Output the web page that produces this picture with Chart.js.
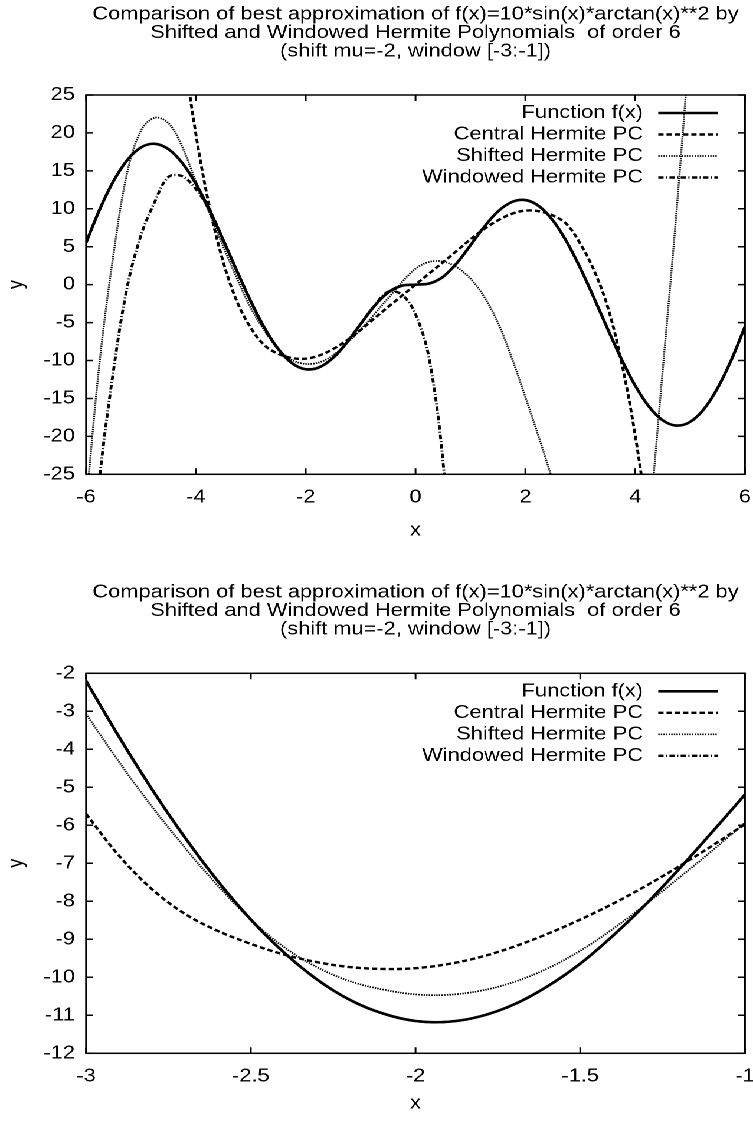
<!DOCTYPE html>
<html lang="en">
<head>
<meta charset="utf-8" />
<script src="https://cdn.jsdelivr.net/npm/chart.js@4.4.1/dist/chart.umd.min.js"></script>
<title>Hermite PC approximations</title>
<style>
  html, body { margin: 0; padding: 0; background: #fff; }
  /* the gnuplot output is stretched sideways, so the whole drawing is too */
  #wrap { width: 638px; transform: scaleX(1.1803); transform-origin: 0 0; }
  canvas { display: block; }
</style>
</head>
<body>
<div id="wrap">
  <canvas id="arriba" width="638" height="560"></canvas>
  <canvas id="abajo" width="638" height="561"></canvas>
</div>
<script>
const titulo = [
  "Comparison of best approximation of f(x)=10*sin(x)*arctan(x)**2 by",
  "Shifted and Windowed Hermite Polynomials  of order 6",
  "(shift mu=-2, window [-3:-1])"
];
const series = ["Function f(x)", "Central Hermite PC", "Shifted Hermite PC", "Windowed Hermite PC"];

// top plot, x from -6 to 6
const topX = [-6, -5.75, -5.5, -5.25, -5, -4.75, -4.5, -4.25, -4, -3.75, -3.5, -3.25, -3, -2.75, -2.5, -2.25,
  -2, -1.75, -1.5, -1.25, -1, -0.75, -0.5, -0.25, 0, 0.25, 0.5, 0.75, 1, 1.25, 1.5, 1.75,
  2, 2.25, 2.5, 2.75, 3, 3.25, 3.5, 3.75, 4, 4.25, 4.5, 4.75, 5, 5.25, 5.5, 5.75, 6];
const topFunction = [5.52, 9.94, 13.65, 16.42, 18.09, 18.57, 17.87, 16.06, 13.30, 9.81, 5.86, 1.75, -2.20, -5.70, -8.48, -10.34,
  -11.15, -10.88, -9.64, -7.62, -5.19, -2.82, -1.03, -0.15, 0, 0.15, 1.03, 2.82, 5.19, 7.62, 9.64, 10.88,
  11.15, 10.34, 8.48, 5.70, 2.20, -1.75, -5.86, -9.81, -13.30, -16.06, -17.87, -18.57, -18.09, -16.42, -13.65, -9.94, -5.52];
const topCentral = [null, null, null, null, null, null, 48.6, 32.5, 19.84, 10.17, 2.95, -2.26, -5.70, -8.0, -9.12, -9.67,
  -9.76, -9.33, -8.48, -7.34, -5.97, -4.45, -2.95, -1.48, 0, 1.48, 2.95, 4.45, 5.97, 7.34, 8.48, 9.33,
  9.76, 9.67, 9.12, 8.0, 5.4, 1.9, -2.95, -10.17, -19.84, -32.5, -48.6, null, null, null, null, null, null];
const topShifted = [-29, -10, 4.0, 14.8, 20.3, 22.0, 21.3, 18.2, 13.6, 9.4, 5.0, 0.8, -3.07, -6.06, -8.48, -9.93,
  -10.45, -10.24, -9.30, -7.73, -5.93, -3.9, -1.8, 0.3, 2.1, 3.0, 3.05, 2.3, 0.8, -1.6, -5.0, -9.6,
  -14.8, -20.2, -25.8, -31, -38, -45, -50, -52, -47, -31.6, -11.4, 9.4, 33, 62, null, null, null];
const topWindowed = [-45, -25.3, -11.3, -0.3, 6.5, 10.9, 14.2, 14.3, 12.6, 9.8, 5.86, 1.75, -2.20, -5.70, -8.48, -10.34,
  -11.15, -10.88, -9.64, -7.62, -5.19, -2.8, -0.95, -1.3, -3.9, -9.8, -23.3, -47, null, null, null, null,
  null, null, null, null, null, null, null, null, null, null, null, null, null, null, null, null, null];

// bottom plot, zoom on the window [-3:-1]
const bottomX = [-3, -2.9, -2.8, -2.7, -2.6, -2.5, -2.4, -2.3, -2.2, -2.1, -2, -1.9, -1.8, -1.7, -1.6, -1.5, -1.4, -1.3, -1.2, -1.1, -1];
const bottomFunction = [-2.20, -3.67, -5.05, -6.32, -7.47, -8.48, -9.34, -10.05, -10.59, -10.95, -11.15,
  -11.17, -11.02, -10.71, -10.24, -9.64, -8.90, -8.07, -7.15, -6.18, -5.19];
const bottomCentral = [-5.70, -6.80, -7.68, -8.33, -8.78, -9.12, -9.40, -9.60, -9.73, -9.78, -9.76,
  -9.65, -9.46, -9.19, -8.86, -8.48, -8.06, -7.59, -7.08, -6.54, -5.97];
const bottomShifted = [-3.07, -4.33, -5.51, -6.59, -7.59, -8.48, -9.20, -9.73, -10.10, -10.32, -10.45,
  -10.46, -10.35, -10.12, -9.77, -9.30, -8.72, -8.07, -7.38, -6.67, -5.93];
const bottomWindowed = [-2.20, -3.67, -5.05, -6.32, -7.47, -8.48, -9.34, -10.05, -10.59, -10.95, -11.15,
  -11.17, -11.02, -10.71, -10.24, -9.64, -8.90, -8.07, -7.15, -6.18, -5.19];

const estilos = [
  { borderWidth: 2.6, borderDash: [] },
  { borderWidth: 2.4, borderDash: [4.5, 2.5] },
  { borderWidth: 1.7, borderDash: [1.2, 1] },
  { borderWidth: 2.4, borderDash: [4.5, 2, 1, 2] }
];

Chart.defaults.font.family = "'Liberation Sans', Arial, sans-serif";
Chart.defaults.font.size = 18.5;
Chart.defaults.color = "#000";

// gnuplot style box with inward ticks on all sides, and the key in the top right corner
const marco = {
  id: "marco",
  beforeDatasetsDraw(chart) {
    const { ctx, chartArea: a, scales: { x, y } } = chart;
    ctx.save();
    ctx.strokeStyle = "#000";
    ctx.lineWidth = 1.5;
    ctx.setLineDash([]);
    ctx.strokeRect(a.left, a.top, a.right - a.left, a.bottom - a.top);
    ctx.beginPath();
    x.ticks.forEach(t => {
      const px = x.getPixelForValue(t.value);
      ctx.moveTo(px, a.bottom); ctx.lineTo(px, a.bottom - 6);
      ctx.moveTo(px, a.top); ctx.lineTo(px, a.top + 6);
    });
    y.ticks.forEach(t => {
      const py = y.getPixelForValue(t.value);
      ctx.moveTo(a.left, py); ctx.lineTo(a.left + 6, py);
      ctx.moveTo(a.right, py); ctx.lineTo(a.right - 6, py);
    });
    ctx.stroke();

    ctx.font = "18.5px 'Liberation Sans', Arial, sans-serif";
    ctx.fillStyle = "#000";
    ctx.textAlign = "right";
    ctx.textBaseline = "middle";
    chart.data.datasets.forEach((d, i) => {
      const ly = a.top + 18 + i * 21.5;
      ctx.fillText(d.label, a.right - 86.4, ly);
      ctx.beginPath();
      ctx.lineWidth = d.borderWidth;
      ctx.setLineDash(d.borderDash);
      ctx.moveTo(a.right - 73.5, ly);
      ctx.lineTo(a.right - 22.9, ly);
      ctx.stroke();
    });
    ctx.restore();
  }
};

const numero = v => String(v);

function grafica(id, xs, ys, cfg) {
  return new Chart(document.getElementById(id), {
    type: "line",
    data: {
      datasets: ys.map((vals, i) => ({
        label: series[i],
        data: xs.map((x, j) => ({ x: x, y: vals[j] })).filter(p => p.y !== null),
        borderColor: "#000",
        borderWidth: estilos[i].borderWidth,
        borderDash: estilos[i].borderDash,
        pointRadius: 0,
        tension: 0.35,
        capBezierPoints: false,
        fill: false
      }))
    },
    options: {
      responsive: false,
      animation: false,
      devicePixelRatio: 2,
      layout: { padding: { left: 0, right: 6.8, top: 0, bottom: 0 } },
      plugins: {
        legend: { display: false },
        tooltip: { enabled: false },
        title: {
          display: true,
          fullSize: false,
          text: titulo,
          color: "#000",
          font: { size: 18.5, weight: "normal", lineHeight: 1 },
          padding: cfg.titlePad
        }
      },
      scales: {
        x: {
          type: "linear",
          min: cfg.xMin, max: cfg.xMax,
          ticks: { stepSize: cfg.xStep, padding: 12, maxRotation: 0, autoSkip: false, callback: numero },
          grid: { display: false, drawTicks: false },
          border: { display: false },
          title: { display: true, text: "x", padding: { top: 0, bottom: cfg.xTitleBottom } },
          afterFit: s => { s.height = cfg.xHeight; s.paddingLeft = 0; s.paddingRight = 0; }
        },
        y: {
          min: cfg.yMin, max: cfg.yMax,
          ticks: { stepSize: cfg.yStep, padding: 9.4, callback: numero },
          grid: { display: false, drawTicks: false },
          border: { display: false },
          title: { display: true, text: "y", padding: { top: 3, bottom: 0 } },
          afterFit: s => { s.width = 72.9; }
        }
      }
    },
    plugins: [marco]
  });
}

grafica("arriba", topX, [topFunction, topCentral, topShifted, topWindowed], {
  xMin: -6, xMax: 6, xStep: 2, yMin: -25, yMax: 25, yStep: 5,
  titlePad: { top: 5.25, bottom: 34.25 }, xHeight: 85.7, xTitleBottom: 18.5
});
grafica("abajo", bottomX, [bottomFunction, bottomCentral, bottomShifted, bottomWindowed], {
  xMin: -3, xMax: -1, xStep: 0.5, yMin: -12, yMax: -2, yStep: 1,
  titlePad: { top: 23.25, bottom: 34.55 }, xHeight: 67.7, xTitleBottom: 6.5
});
</script>
</body>
</html>
